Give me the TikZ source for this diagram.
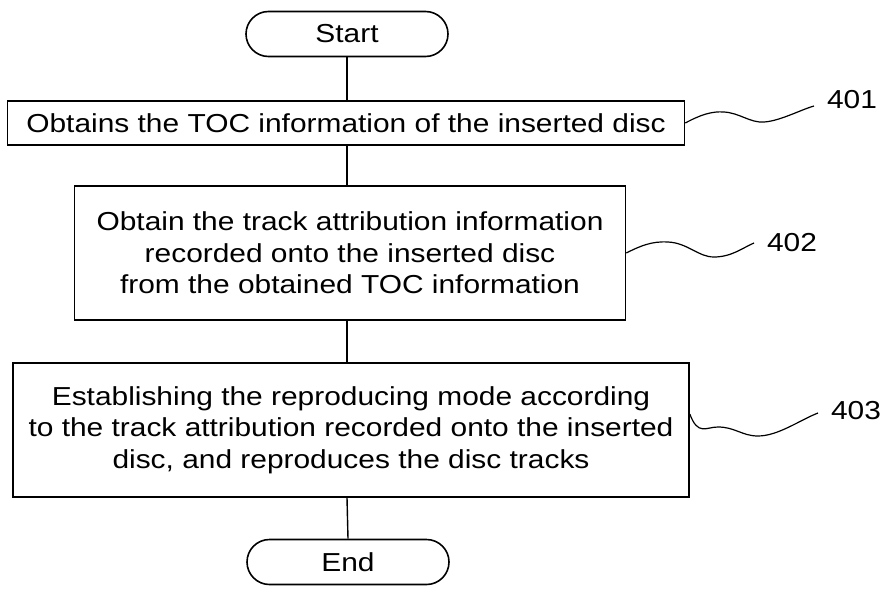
\documentclass[tikz,border=0pt]{standalone}
\usepackage{fontspec}
\setmainfont{Liberation Sans}[FakeStretch=1.15]
\usepackage{tikz}
\usetikzlibrary{shapes.misc}

\tikzset{
  stepbox/.style={draw, line width=1.6pt, inner sep=0pt, align=center, font=\fontsize{26}{31.5}\selectfont},
  termbox/.style={stepbox, rounded rectangle, minimum width=202pt, minimum height=45pt},
  leader/.style={line width=1.2pt},
  reflabel/.style={font=\fontsize{26}{30}\selectfont}
}

\begin{document}
\begin{tikzpicture}[x=1pt,y=1pt,yscale=-1,xscale=1]
\useasboundingbox (0,0) rectangle (883,594);

%Shape: Terminal
\node[termbox] (start) at (347,34) {Start};
%Shape: Rectangle
\node[stepbox, minimum width=677pt, minimum height=44pt] (b401) at (346,123) {Obtains the TOC information of the inserted disc};
%Shape: Rectangle
\node[stepbox, minimum width=551pt, minimum height=134pt] (b402) at (350,253) {Obtain the track attribution information\\recorded onto the inserted disc\\from the obtained TOC information};
%Shape: Rectangle
\node[stepbox, minimum width=676pt, minimum height=134pt] (b403) at (351,430) {Establishing the reproducing mode according\\to the track attribution recorded onto the inserted\\disc, and reproduces the disc tracks};
%Shape: Terminal
\node[termbox] (end) at (348,562) {End};

%Straight Lines
\draw[line width=1.4pt] (start.south) -- (start.south |- b401.north);
\draw[line width=1.4pt] (start.south |- b401.south) -- (start.south |- b402.north);
\draw[line width=1.4pt] (start.south |- b402.south) -- (start.south |- b403.north);
\draw[line width=1.4pt] (start.south |- b403.south) -- (end.north);

% Text Node
\node[reflabel] (t401) at (852,100) {401};
\node[reflabel] (t402) at (792,243) {402};
\node[reflabel] (t403) at (856,411) {403};
\coordinate (e401) at (814,106);
\coordinate (e402) at (754,243);
\coordinate (e403) at (818,413);

%Curve Lines
\draw[leader] (b401.east) .. controls (700,115) and (712,111) .. (724,112) .. controls (740,113) and (750,123) .. (764,122) .. controls (780,121) and (800,110) .. (e401);
\draw[leader] (b402.east) .. controls (640,246) and (652,241) .. (668,242) .. controls (688,243) and (698,257) .. (714,257) .. controls (732,257) and (744,247) .. (e402);
\draw[leader] ([yshift=-16pt]b403.east) .. controls (698,436) and (706,427) .. (718,427) .. controls (735,427) and (742,436) .. (758,436) .. controls (778,436) and (800,420) .. (e403);
\end{tikzpicture}
\end{document}
